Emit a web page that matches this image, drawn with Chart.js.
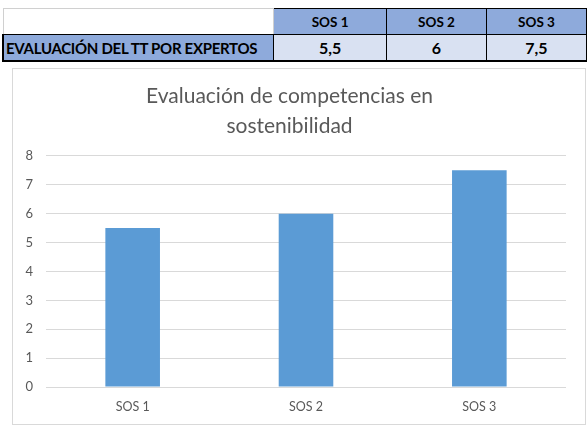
<!DOCTYPE html>
<html lang="es">
<head>
    <meta charset="UTF-8">
    <title>Evaluación de competencias en sostenibilidad</title>
    <script src="https://cdn.jsdelivr.net/npm/chart.js"></script>
    <style>
        body {
            margin: 0;
            background: #ffffff;
            font-family: 'Lato', 'Open Sans', sans-serif;
            width: 587px;
            height: 425px;
            position: relative;
            overflow: hidden;
        }
        table.datos {
            position: absolute;
            left: 2px;
            top: 8px;
            border-collapse: collapse;
            font-weight: bold;
            color: #000;
        }
        table.datos td {
            height: 25px;
            padding: 0 2px;
            font-size: 13.5px;
            text-align: center;
            border: 1px solid #000;
            white-space: nowrap;
        }
        table.datos td.vacio {
            background: #fff;
            border: 1px solid #d0d0d0;
            border-bottom: 1px solid #000;
        }
        table.datos td.cab {
            background: #8eaadb;
        }
        table.datos td.etq {
            background: #8eaadb;
            text-align: left;
            font-size: 15px;
            letter-spacing: -0.3px;
            border-left: 2px solid #000;
        }
        table.datos td.val {
            background: #d9e1f2;
            font-size: 16px;
        }
        table.datos tr.fila2 td {
            border-bottom: 2px solid #000;
        }
        .grafico {
            position: absolute;
            left: 12px;
            top: 68px;
            width: 572px;
            height: 355px;
            border: 1px solid #d9d9d9;
        }
    </style>
</head>
<body>
    <table class="datos" id="tabla"></table>

    <div class="grafico">
        <canvas id="sosChart"></canvas>
    </div>

    <script>
        // datos
        var categorias = ['SOS 1', 'SOS 2', 'SOS 3'];
        var valores = [5.5, 6, 7.5];
        var filaEtiqueta = 'EVALUACIÓN DEL TT POR EXPERTOS';
        var titulo = ['Evaluación de competencias en', 'sostenibilidad'];

        // tabla de arriba
        var anchos = [270, 113, 100, 100];
        var tabla = document.getElementById('tabla');
        var h1 = '<tr><td class="vacio" style="width:' + (anchos[0] - 4) + 'px"></td>';
        categorias.forEach(function (c, i) {
            h1 += '<td class="cab" style="width:' + (anchos[i + 1] - 4) + 'px">' + c + '</td>';
        });
        h1 += '</tr>';
        var h2 = '<tr class="fila2"><td class="etq">' + filaEtiqueta + '</td>';
        valores.forEach(function (v) {
            h2 += '<td class="val">' + String(v).replace('.', ',') + '</td>';
        });
        h2 += '</tr>';
        tabla.innerHTML = h1 + h2;

        // grafico
        var ctx = document.getElementById('sosChart').getContext('2d');
        var sosChart = new Chart(ctx, {
            type: 'bar',
            data: {
                labels: categorias,
                datasets: [{
                    data: valores,
                    backgroundColor: '#5b9bd5',
                    borderWidth: 0,
                    barPercentage: 0.63,
                    categoryPercentage: 0.5
                }]
            },
            options: {
                responsive: true,
                maintainAspectRatio: false,
                animation: false,
                layout: { padding: { left: 0, right: 19, top: 0, bottom: 6 } },
                plugins: {
                    legend: { display: false },
                    tooltip: { enabled: false },
                    title: {
                        display: true,
                        text: titulo,
                        color: '#595959',
                        font: { family: 'Lato', size: 21, weight: 'normal', lineHeight: 1.45 },
                        padding: { top: 12, bottom: 14 }
                    }
                },
                scales: {
                    x: {
                        grid: { display: false },
                        border: { display: false },
                        ticks: { color: '#595959', font: { family: 'Lato', size: 12.5 }, padding: 4 }
                    },
                    y: {
                        min: 0,
                        max: 8,
                        afterFit: function (scale) { scale.width = 33; },
                        ticks: { stepSize: 1, color: '#595959', font: { family: 'Lato', size: 13 }, padding: 13 },
                        grid: { color: '#d9d9d9', drawTicks: false },
                        border: { display: false }
                    }
                }
            }
        });
    </script>
</body>
</html>
